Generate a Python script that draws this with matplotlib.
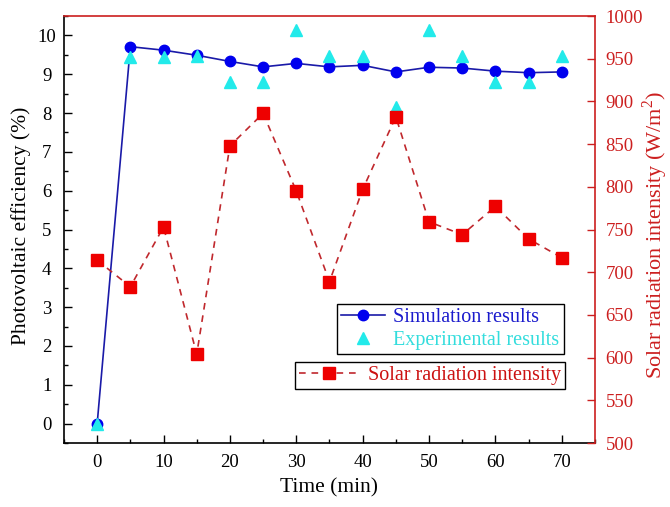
import matplotlib
matplotlib.use("Agg")
import matplotlib.pyplot as plt
from matplotlib.ticker import MultipleLocator

plt.rcParams['font.family'] = ['Liberation Serif', 'DejaVu Serif']
plt.rcParams['mathtext.fontset'] = 'custom'
plt.rcParams['mathtext.rm'] = 'Liberation Serif'

time = [0, 5, 10, 15, 20, 25, 30, 35, 40, 45, 50, 55, 60, 65, 70]
simulation = [0.0, 9.71, 9.62, 9.49, 9.33, 9.19, 9.28, 9.19, 9.23, 9.06, 9.18, 9.16, 9.08, 9.04, 9.06]
experimental = [0.0, 9.45, 9.45, 9.48, 8.8, 8.8, 10.14, 9.46, 9.46, 8.15, 10.14, 9.47, 8.8, 8.8, 9.47]
solar = [714, 683, 753, 604, 848, 886, 795, 689, 797, 882, 759, 744, 777, 739, 717]

RED_AX = '#cc1f1f'
fig = plt.figure(figsize=(6.7, 5.07), dpi=100)
ax = fig.add_axes([0.0955, 0.1262, 0.7925, 0.8422])
ax2 = ax.twinx()

l1, = ax.plot(time, simulation, '-', color='#1a1aa8', lw=1.2, marker='o',
              ms=7.5, mfc='#0000ee', mec='#0000ee', label='Simulation results', zorder=3)
l2, = ax.plot(time, experimental, linestyle='none', marker='^', ms=8.5,
              mfc='#22eaea', mec='#22eaea', label='Experimental results', zorder=4)
l3, = ax2.plot(time, solar, color='#c0282d', lw=1.2, dashes=(4, 3.5), marker='s',
               ms=8, mfc='#ee0000', mec='#ee0000', label='Solar radiation intensity')

ax.set_xlim(-5, 75)
ax.set_ylim(-0.5, 10.5)
ax2.set_ylim(500, 1000)

ax.xaxis.set_major_locator(MultipleLocator(10))
ax.xaxis.set_minor_locator(MultipleLocator(5))
ax.yaxis.set_major_locator(MultipleLocator(1))
ax.yaxis.set_minor_locator(MultipleLocator(0.5))
ax2.yaxis.set_major_locator(MultipleLocator(50))

ax.tick_params(axis='both', which='major', direction='in', length=6, width=1, labelsize=13.5)
ax.tick_params(axis='both', which='minor', direction='in', length=3, width=1)
ax.tick_params(axis='x', which='major', pad=8)
ax.tick_params(axis='y', which='major', pad=12.5)
ax.tick_params(axis='x', which='both', top=False)
for lab in ax.get_yticklabels():
    lab.set_horizontalalignment('center')
ax2.tick_params(axis='y', which='major', direction='in', length=6, width=1,
                labelsize=13.5, colors=RED_AX, pad=7.5)

for s in ['left', 'bottom']:
    ax.spines[s].set_color('black')
    ax.spines[s].set_linewidth(1.2)
ax2.spines['right'].set_color(RED_AX)
ax2.spines['top'].set_color(RED_AX)
ax2.spines['right'].set_linewidth(1.2)
ax2.spines['top'].set_linewidth(1.2)
ax.spines['top'].set_visible(False)
ax.spines['right'].set_visible(False)
ax2.spines['left'].set_visible(False)
ax2.spines['bottom'].set_visible(False)

ax.set_xlabel('Time (min)', fontsize=15.5, labelpad=5)
ax.set_ylabel('Photovoltaic efficiency (%)', fontsize=15.5)
ax.yaxis.set_label_coords(-0.062, 0.509)
ax2.set_ylabel('Solar radiation intensity (W/m$^2$)', fontsize=16, color=RED_AX)
ax2.yaxis.set_label_coords(1.086, 0.487)

leg1 = ax2.legend(handles=[l1, l2], loc='upper right', bbox_to_anchor=(0.941, 0.326),
                  fontsize=14.5, frameon=True, fancybox=False, framealpha=1,
                  edgecolor='black', borderpad=0.2, handlelength=2.2, handletextpad=0.4,
                  labelspacing=0.2, borderaxespad=0)
leg1.get_frame().set_linewidth(1.0)
leg1.get_texts()[0].set_color('#1a1acc')
leg1.get_texts()[1].set_color('#33dddd')
ax2.add_artist(leg1)
leg2 = ax2.legend(handles=[l3], loc='upper right', bbox_to_anchor=(0.943, 0.19),
                  fontsize=14.5, frameon=True, fancybox=False, framealpha=1,
                  edgecolor='black', borderpad=0.2, handlelength=3.0, handletextpad=0.4,
                  borderaxespad=0)
leg2.get_frame().set_linewidth(1.0)
leg2.get_texts()[0].set_color('#cc1111')

fig.savefig('out.png', dpi=100)
